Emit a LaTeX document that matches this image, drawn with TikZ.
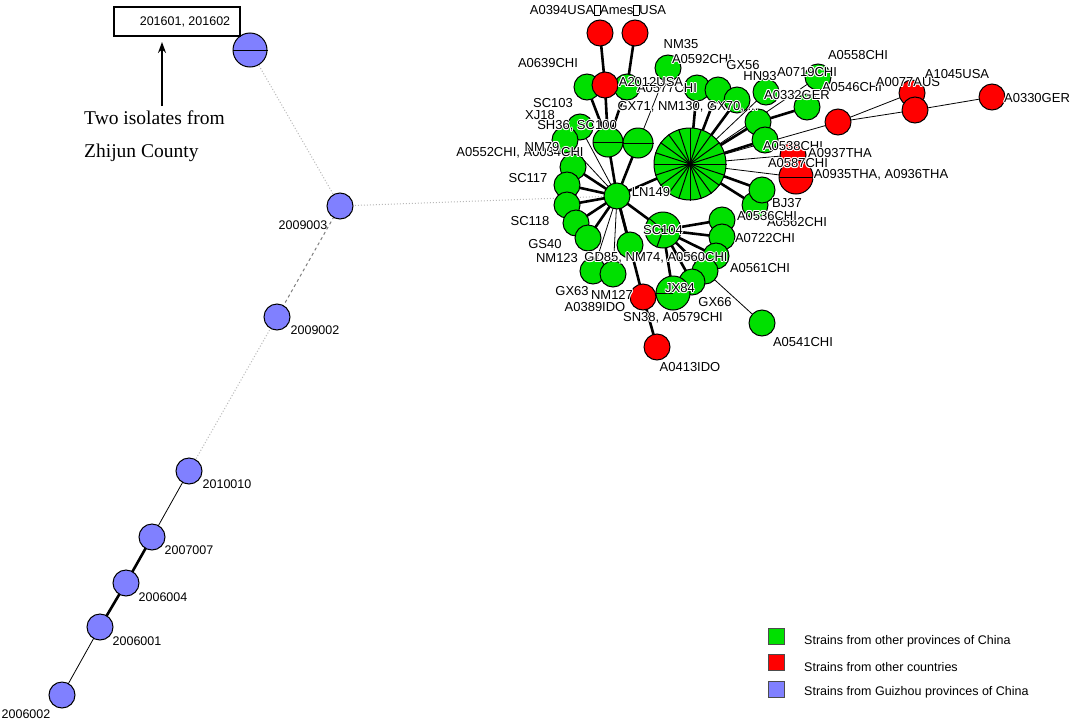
\documentclass[tikz,border=0pt]{standalone}
\usepackage{fontspec}
\setmainfont{Liberation Sans}
\newfontfamily\serifsty{Liberation Serif}
\usetikzlibrary{backgrounds,arrows.meta}
\definecolor{ngreen}{RGB}{0,224,0}
\definecolor{nred}{RGB}{255,0,0}
\definecolor{nblue}{RGB}{128,128,255}
\newcommand\hal[1]{{\setbox0\hbox{#1}%
\rlap{\color{white}\kern.9pt\copy0}\rlap{\color{white}\kern-.9pt\copy0}%
\rlap{\color{white}\raise.9pt\copy0}\rlap{\color{white}\lower.9pt\copy0}%
\rlap{\color{white}\kern.65pt\raise.65pt\copy0}\rlap{\color{white}\kern-.65pt\raise.65pt\copy0}%
\rlap{\color{white}\kern.65pt\lower.65pt\copy0}\rlap{\color{white}\kern-.65pt\lower.65pt\copy0}%
\box0}}
\newcommand\tofu{{\fboxsep=0pt\fboxrule=0.5pt\fbox{\rule{0pt}{9pt}\hspace{5pt}}}}
\begin{document}
\begin{tikzpicture}[x=1pt,y=-1pt,
 nd/.style={circle,draw=black,line width=1pt,inner sep=0pt,minimum size=26pt},
 gn/.style={nd,fill=ngreen}, rd/.style={nd,fill=nred}, bl/.style={nd,fill=nblue},
 tk/.style={line width=2.6pt}, tn/.style={line width=0.8pt},
 gdot/.style={gray!55,dotted,line width=1pt}, gdash/.style={gray,dashed,line width=1pt},
 lab/.style={font=\fontsize{13}{15}\selectfont,inner sep=0pt},
 blab/.style={font=\fontsize{12.5}{14}\selectfont,inner sep=0pt},
 lgbox/.style={draw=black!70,line width=1pt,minimum size=16pt,inner sep=0pt},
 lgtext/.style={anchor=west,font=\fontsize{12.5}{14}\selectfont,inner sep=0pt}]
\useasboundingbox (0,0) rectangle (1073,723);

% ---------- Guizhou chain ----------
\node[bl,minimum size=34pt] (b16) at (250,50) {};
\node[bl] (b9003) at (340,206) {};
\node[bl] (b9002) at (277,317) {};
\node[bl] (b0010) at (189,471) {};
\node[bl] (b7007) at (152,537) {};
\node[bl] (b6004) at (126,583) {};
\node[bl] (b6001) at (100,627) {};
\node[bl] (b6002) at (62,695) {};
\draw[line width=1pt] (b16.west) -- (b16.east);

% ---------- main cluster nodes ----------
\node[rd] (r0394) at (600,33) {};
\node[rd] (r0394b) at (635,33) {};
\node[gn] (gNM35) at (668,68) {};
\node[gn] (g0639) at (587,87) {};
\node[gn] (g0577) at (627,87) {};
\node[rd] (r2012) at (605,85) {};
\node[gn] (gGX56a) at (697,88) {};
\node[gn] (gGX56b) at (718,90) {};
\node[gn] (gGX56c) at (737,100) {};
\node[gn] (gHN93) at (766,92) {};
\node[gn] (g0719) at (818,77) {};
\node[gn] (g0332) at (807,107) {};
\node[gn] (g758) at (758,122) {};
\node[gn] (g0538) at (765,140) {};
\node[rd] (r839) at (838,122) {};
\node[rd] (r0077) at (912,93) {};
\node[rd] (r1045) at (915,110) {};
\node[rd] (r0330) at (992,97) {};
\node[rd] (r0937) at (793,155) {};
\node[rd,minimum size=34pt] (r0935) at (796,177) {};
\draw[line width=1pt] (r0935.west) -- (r0935.east);
\node[gn] (gBJ37b) at (755,205) {};
\node[gn] (gBJ37) at (762,190) {};
\node[gn] (gSH) at (580,127) {};
\node[gn] (gNM79) at (565,140) {};
\node[gn] (gA) at (573,167) {};
\node[gn] (gB) at (567,185) {};
\node[gn] (gCc) at (567,205) {};
\node[gn] (gD) at (576,223) {};
\node[gn] (gE) at (588,238) {};
\node[gn] (gGS) at (593,271) {};
\node[gn] (gNM127) at (613,274) {};
\node[gn] (gGD) at (630,245) {};
\node[gn,minimum size=30pt] (S1) at (608,142) {};
\node[gn,minimum size=30pt] (S2) at (638,143) {};
\draw[line width=1pt] (S1.west) -- (S1.east);
\draw[line width=1pt] (S2.west) -- (S2.east);
\node[gn] (LN) at (617,196) {};
\node[gn,minimum size=72pt] (C) at (690,164) {};
\foreach \a in {0,18,...,342} \draw[line width=1pt] (C.center) -- (C.\a);
\fill (C.center) circle (2.5pt);
\node[gn] (g0536) at (722,220) {};
\node[gn] (g0722) at (722,237) {};
\node[gn] (g0561) at (716,256) {};
\node[gn] (gGX66) at (705,271) {};
\node[gn] (g5) at (692,282) {};
\node[gn,minimum size=34pt] (JX84) at (673,293) {};
\draw[line width=1pt] (JX84.west) -- (JX84.center);
\node[gn,minimum size=36pt] (SC104) at (663,230) {};
\draw[line width=1pt] (SC104.center) -- (SC104.140) (SC104.center) -- (SC104.250) (SC104.center) -- (SC104.5);
\node[rd] (rSN38) at (643,297) {};
\node[rd] (r0413) at (657,347) {};
\node[gn] (g0541) at (762,323) {};

% ---------- edges ----------
\begin{pgfonlayer}{background}
\fill[white] (0,0) rectangle (1073,723);
\draw[gdot] (b16.center) -- (b9003.center);
\draw[gdot] (b9003.center) -- (LN.center);
\draw[gdash] (b9003.center) -- (b9002.center);
\draw[gdot] (b9002.center) -- (b0010.center);
\draw[tn] (b0010.center) -- (b7007.center);
\draw[tk] (b7007.center) -- (b6004.center);
\draw[tk] (b6004.center) -- (b6001.center);
\draw[tn] (b6001.center) -- (b6002.center);
\foreach \n in {C,S1,S2,gA,gB,gCc,gD,gE,gGD,SC104,rSN38} \draw[tk] (LN.center) -- (\n.center);
\foreach \n in {gSH,gNM79,gGS,gNM127} \draw[tn] (LN.center) -- (\n.center);
\foreach \n in {g0639,r2012,g0577} \draw[tk] (S1.center) -- (\n.center);
\draw[tk] (r0394.center) -- (r2012.center);
\draw[tk] (r0394b.center) -- (g0577.center);
\draw[tn] (S2.center) -- (gNM35.center);
\foreach \n in {gGX56a,gGX56b,gGX56c,g758,g0538,gBJ37,gBJ37b} \draw[tk] (C.center) -- (\n.center);
\foreach \n in {gHN93,g0719,r839,r0937,r0935} \draw[tn] (C.center) -- (\n.center);
\draw[tk] (g758.center) -- (g0332.center);
\draw[tn] (r839.center) -- (r0077.center);
\draw[tn] (r839.center) -- (r1045.center);
\draw[tn] (r1045.center) -- (r0330.center);
\foreach \n in {g0536,g0722,g0561,gGX66,g5,JX84} \draw[tk] (SC104.center) -- (\n.center);
\draw[tk] (rSN38.center) -- (r0413.center);
\draw[tn] (gGX66.center) -- (g0541.center);
\end{pgfonlayer}

% ---------- cluster labels ----------
\node[lab] (l0394) at (598,10) {\hal{A0394USA\tofu Ames\tofu USA}};
\node[lab] (l0639) at (548,63) {\hal{A0639CHI}};
\node[lab] (lNM35) at (681,44) {\hal{NM35}};
\node[lab] (l0592) at (702,59) {\hal{A0592CHI}};
\node[lab] (lGX56) at (743,65) {\hal{GX56}};
\node[lab] (lHN93) at (760,76) {\hal{HN93}};
\node[lab] (l0719) at (807,72) {\hal{A0719CHI}};
\node[lab] (l0558) at (858,55) {\hal{A0558CHI}};
\node[lab] (l0546) at (852,87) {\hal{A0546CHI}};
\node[lab] (l0332) at (797,95) {\hal{A0332GER}};
\node[lab] (l0077) at (908,82) {\hal{A0077AUS}};
\node[lab] (l1045) at (957,74) {\hal{A1045USA}};
\node[lab] (l0330) at (1037,98) {\hal{A0330GER}};
\node[lab] (l0577) at (667,88) {\hal{A0577CHI}};
\node[lab] (l2012) at (651,82) {\hal{A2012USA}};
\node[lab] (lGX71) at (688,107) {\hal{GX71, NM130, GX70, ...}};
\node[lab] (lSC103) at (553,103) {\hal{SC103}};
\node[lab] (lXJ18) at (540,115) {\hal{XJ18}};
\node[lab] (lSH36) at (577,126) {\hal{SH36, SC100}};
\node[lab] (l0552) at (520,153) {\hal{A0552CHI, A0034CHI}};
\node[lab] (lNM79) at (542,147) {\hal{NM79}};
\node[lab] (lSC117) at (528,178) {\hal{SC117}};
\node[lab] (lLN) at (651,192) {\hal{LN149}};
\node[lab] (l0538) at (793,146) {\hal{A0538CHI}};
\node[lab] (l0937) at (840,153) {\hal{A0937THA}};
\node[lab] (l0587) at (798,163) {\hal{A0587CHI}};
\node[lab] (l0935) at (881,175) {\hal{A0935THA, A0936THA}};
\node[lab] (lBJ37) at (787,203) {\hal{BJ37}};
\node[lab] (l0562) at (797,222) {\hal{A0562CHI}};
\node[lab] (l0536) at (767,216) {\hal{A0536CHI}};
\node[lab] (l0722) at (765,238) {\hal{A0722CHI}};
\node[lab] (l0561) at (760,268) {\hal{A0561CHI}};
\node[lab] (lSC118) at (530,221) {\hal{SC118}};
\node[lab] (lGS40) at (545,244) {\hal{GS40}};
\node[lab] (lNM123) at (557,258) {\hal{NM123}};
\node[lab] (lGD85) at (656,258) {\hal{GD85, NM74, A0560CHI}};
\node[lab] (lSC104) at (663,230) {\hal{SC104}};
\node[lab] (lJX84) at (680,288) {\hal{JX84}};
\node[lab] (lGX63) at (572,291) {\hal{GX63}};
\node[lab] (lNM127) at (612,295) {\hal{NM127}};
\node[lab] (l0389) at (595,307) {\hal{A0389IDO}};
\node[lab] (lGX66) at (715,302) {\hal{GX66}};
\node[lab] (lSN38) at (673,318) {\hal{SN38, A0579CHI}};
\node[lab] (l0541) at (803,342) {\hal{A0541CHI}};
\node[lab] (l0413) at (690,367) {\hal{A0413IDO}};

% ---------- Guizhou labels ----------
\node[blab] (l9003) at (303,225) {2009003};
\node[blab] (l9002) at (315,330) {2009002};
\node[blab] (l0010) at (227,484) {2010010};
\node[blab] (l7007) at (189,550) {2007007};
\node[blab] (l6004) at (163,597) {2006004};
\node[blab] (l6001) at (137,641) {2006001};
\node[blab] (l6002) at (26,714) {2006002};

% ---------- annotation ----------
\node[draw,line width=1.2pt,minimum width=126pt,minimum height=29pt,inner sep=0pt,font=\fontsize{12.5}{14}\selectfont] (box) at (177,21.5) {\hspace*{16pt}201601, 201602};
\coordinate (arT) at (162,106);
\coordinate (arH) at (162,42);
\draw[line width=1.6pt,-{Stealth[length=11pt,width=8pt]}] (arT) -- (arH);
\node[anchor=west,inner sep=0pt,font=\serifsty\fontsize{19.5}{22}\selectfont] (t1) at (84,118) {Two isolates from};
\node[anchor=west,inner sep=0pt,font=\serifsty\fontsize{19.5}{22}\selectfont] (t2) at (84,153) {Zhijun County};

% ---------- legend ----------
\node[lgbox,fill=ngreen] (lg1) at (776,636) {};
\node[lgbox,fill=nred] (lg2) at (776,662) {};
\node[lgbox,fill=nblue] (lg3) at (776,689) {};
\node[lgtext] (lt1) at (804,641) {Strains from other provinces of China};
\node[lgtext] (lt2) at (804,667) {Strains from other countries};
\node[lgtext] (lt3) at (804,692) {Strains from Guizhou provinces of China};
\end{tikzpicture}
\end{document}
